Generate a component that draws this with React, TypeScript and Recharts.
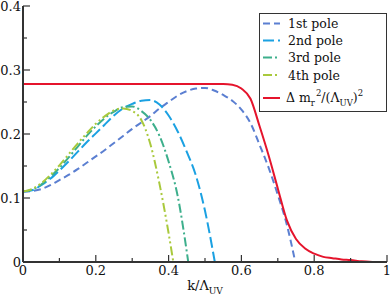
import { LineChart, Line, XAxis, YAxis, Legend } from 'recharts';

const pole1K = [0, 0.025, 0.05, 0.075, 0.1, 0.125, 0.15, 0.175, 0.2, 0.225, 0.25, 0.275, 0.3, 0.325, 0.35, 0.375, 0.4, 0.425, 0.45, 0.475, 0.5, 0.525, 0.55, 0.575, 0.6, 0.625, 0.65, 0.675, 0.7, 0.725, 0.748];
const pole1Val = [0.110, 0.111, 0.114, 0.120, 0.128, 0.136, 0.145, 0.155, 0.165, 0.175, 0.186, 0.197, 0.208, 0.218, 0.228, 0.240, 0.250, 0.260, 0.267, 0.271, 0.272, 0.268, 0.261, 0.252, 0.238, 0.217, 0.183, 0.147, 0.105, 0.058, 0.0];

const pole2K = [0, 0.025, 0.05, 0.075, 0.1, 0.125, 0.15, 0.175, 0.2, 0.225, 0.25, 0.275, 0.3, 0.325, 0.35, 0.375, 0.4, 0.425, 0.45, 0.475, 0.5, 0.527];
const pole2Val = [0.110, 0.112, 0.120, 0.130, 0.143, 0.157, 0.172, 0.187, 0.201, 0.215, 0.229, 0.240, 0.247, 0.252, 0.253, 0.246, 0.229, 0.204, 0.172, 0.135, 0.080, 0.0];

const pole3K = [0, 0.025, 0.05, 0.075, 0.1, 0.125, 0.15, 0.175, 0.2, 0.225, 0.25, 0.275, 0.3, 0.325, 0.35, 0.375, 0.4, 0.425, 0.454];
const pole3Val = [0.110, 0.113, 0.121, 0.133, 0.147, 0.163, 0.180, 0.197, 0.212, 0.225, 0.235, 0.242, 0.243, 0.236, 0.222, 0.197, 0.157, 0.103, 0.0];

const pole4K = [0, 0.025, 0.05, 0.075, 0.1, 0.125, 0.15, 0.175, 0.2, 0.225, 0.25, 0.275, 0.3, 0.325, 0.35, 0.375, 0.4, 0.413];
const pole4Val = [0.110, 0.114, 0.123, 0.136, 0.151, 0.168, 0.185, 0.201, 0.216, 0.228, 0.237, 0.240, 0.236, 0.222, 0.184, 0.122, 0.045, 0.0];

const massK = [0, 0.1, 0.2, 0.3, 0.4, 0.5, 0.55, 0.575, 0.6, 0.625, 0.65, 0.675, 0.7, 0.725, 0.75, 0.775, 0.8, 0.825, 0.85, 0.875, 0.9, 0.93, 0.96];
const massVal = [0.278, 0.278, 0.278, 0.278, 0.278, 0.278, 0.278, 0.277, 0.271, 0.255, 0.212, 0.166, 0.115, 0.065, 0.036, 0.021, 0.013, 0.008, 0.006, 0.004, 0.003, 0.001, 0.0];

const xTicks = [0, 0.1, 0.2, 0.3, 0.4, 0.5, 0.6, 0.7, 0.8, 0.9, 1];
const yTicks = [0, 0.05, 0.1, 0.15, 0.2, 0.25, 0.3, 0.35, 0.4];

const serif = "'DejaVu Serif', 'Noto Serif', serif";
const axisColor = '#333';
const txt = { fontFamily: serif, fill: '#111' };

const toPoints = (k: number[], v: number[]) => k.map((x, i) => ({ k: x, v: v[i] }));

const series = [
  { name: '1st pole', data: toPoints(pole1K, pole1Val), color: '#5b7fd1', dash: '7 4' },
  { name: '2nd pole', data: toPoints(pole2K, pole2Val), color: '#1ba1e2', dash: '11 4' },
  { name: '3rd pole', data: toPoints(pole3K, pole3Val), color: '#3daf8c', dash: '9 3 2 3' },
  { name: '4th pole', data: toPoints(pole4K, pole4Val), color: '#a9c93c', dash: '9 3 2 3 2 3' },
  { name: 'mass', data: toPoints(massK, massVal), color: '#e5142c', dash: undefined },
];

const fmt = (v: number) => (v === 0 ? '0' : v === 1 ? '1' : v.toFixed(1));

function BottomTick({ x, y, payload }: any) {
  const v = payload.value;
  const major = Math.round(v * 10) % 2 === 0;
  return (
    <g>
      <line x1={x} x2={x} y1={y} y2={y - (major ? 7 : 4)} stroke={axisColor} strokeWidth={1.2} />
      {major && (
        <text x={x} y={y + 13} textAnchor="middle" fontSize={13} style={txt}>
          {fmt(v)}
        </text>
      )}
    </g>
  );
}

function TopTick({ x, y, payload }: any) {
  const major = Math.round(payload.value * 10) % 2 === 0;
  return <line x1={x} x2={x} y1={y} y2={y + (major ? 7 : 4)} stroke={axisColor} strokeWidth={1.2} />;
}

function LeftTick({ x, y, payload }: any) {
  const v = payload.value;
  const major = Math.round(v * 100) % 10 === 0;
  return (
    <g>
      <line x1={x} x2={x + (major ? 7 : 4)} y1={y} y2={y} stroke={axisColor} strokeWidth={1.2} />
      {major && (
        <text x={x - 2} y={y + 5} textAnchor="end" fontSize={13} style={txt}>
          {fmt(v)}
        </text>
      )}
    </g>
  );
}

function RightTick({ x, y, payload }: any) {
  const major = Math.round(payload.value * 100) % 10 === 0;
  return <line x1={x} x2={x - (major ? 7 : 4)} y1={y} y2={y} stroke={axisColor} strokeWidth={1.2} />;
}

function XLabel({ viewBox }: any) {
  const cx = viewBox.x + viewBox.width / 2;
  return (
    <text x={cx} y={viewBox.y + 28} textAnchor="middle" fontSize={13} style={txt}>
      k/Λ<tspan dy={4} fontSize={9}>UV</tspan>
    </text>
  );
}

function LegendBox() {
  const rows = [15, 32, 49, 66.5];
  return (
    <svg width={128} height={99} style={{ display: 'block' }}>
      <rect x={0.5} y={0.5} width={127} height={98} fill="#fff" stroke={axisColor} strokeWidth={1} />
      {series.slice(0, 4).map((s, i) => (
        <g key={s.name}>
          <line x1={4} x2={21} y1={rows[i] - 4.5} y2={rows[i] - 4.5} stroke={s.color} strokeWidth={2} strokeDasharray={s.dash} />
          <text x={29} y={rows[i]} fontSize={12.5} style={txt}>{s.name}</text>
        </g>
      ))}
      <line x1={4} x2={21} y1={85} y2={85} stroke={series[4].color} strokeWidth={2} />
      <text x={27} y={89} fontSize={12.5} style={txt}>
        Δ m<tspan dy={4} fontSize={8.5}>r</tspan>
        <tspan dy={-10} dx={1} fontSize={8.5}>2</tspan>
        <tspan dy={6}>/(Λ</tspan>
        <tspan dy={4} fontSize={8.5}>UV</tspan>
        <tspan dy={-4}>)</tspan>
        <tspan dy={-6} fontSize={8.5}>2</tspan>
      </text>
    </svg>
  );
}

export default function App() {
  return (
    <div style={{ position: 'absolute', left: 0, top: 0, background: '#fff', fontFamily: serif }}>
      <LineChart width={390} height={297} margin={{ top: 6, right: 3, bottom: 0, left: 0 }}>
        <XAxis
          xAxisId="b"
          dataKey="k"
          type="number"
          domain={[0, 1]}
          ticks={xTicks}
          tick={<BottomTick />}
          tickLine={false}
          tickSize={0}
          tickMargin={0}
          height={35}
          axisLine={{ stroke: axisColor, strokeWidth: 2 }}
          interval={0}
          label={<XLabel />}
        />
        <XAxis
          xAxisId="t"
          orientation="top"
          dataKey="k"
          type="number"
          domain={[0, 1]}
          ticks={xTicks}
          tick={<TopTick />}
          tickLine={false}
          tickSize={0}
          tickMargin={0}
          height={0}
          axisLine={{ stroke: axisColor, strokeWidth: 2 }}
          interval={0}
        />
        <YAxis
          yAxisId="l"
          type="number"
          domain={[0, 0.4]}
          ticks={yTicks}
          tick={<LeftTick />}
          tickLine={false}
          tickSize={0}
          tickMargin={0}
          width={23}
          axisLine={{ stroke: axisColor, strokeWidth: 2 }}
          interval={0}
        />
        <YAxis
          yAxisId="r"
          orientation="right"
          type="number"
          domain={[0, 0.4]}
          ticks={yTicks}
          tick={<RightTick />}
          tickLine={false}
          tickSize={0}
          tickMargin={0}
          width={0}
          axisLine={{ stroke: axisColor, strokeWidth: 2 }}
          interval={0}
        />
        {series.map((s) => (
          <Line
            key={s.name}
            xAxisId="b"
            yAxisId="l"
            data={s.data}
            dataKey="v"
            name={s.name}
            type="monotone"
            stroke={s.color}
            strokeWidth={2}
            strokeDasharray={s.dash}
            dot={false}
            activeDot={false}
            isAnimationActive={false}
          />
        ))}
        <Legend
          layout="horizontal"
          verticalAlign="middle"
          align="center"
          content={<LegendBox />}
          wrapperStyle={{ left: 259, top: 13, width: 128, height: 99 }}
        />
      </LineChart>
    </div>
  );
}
